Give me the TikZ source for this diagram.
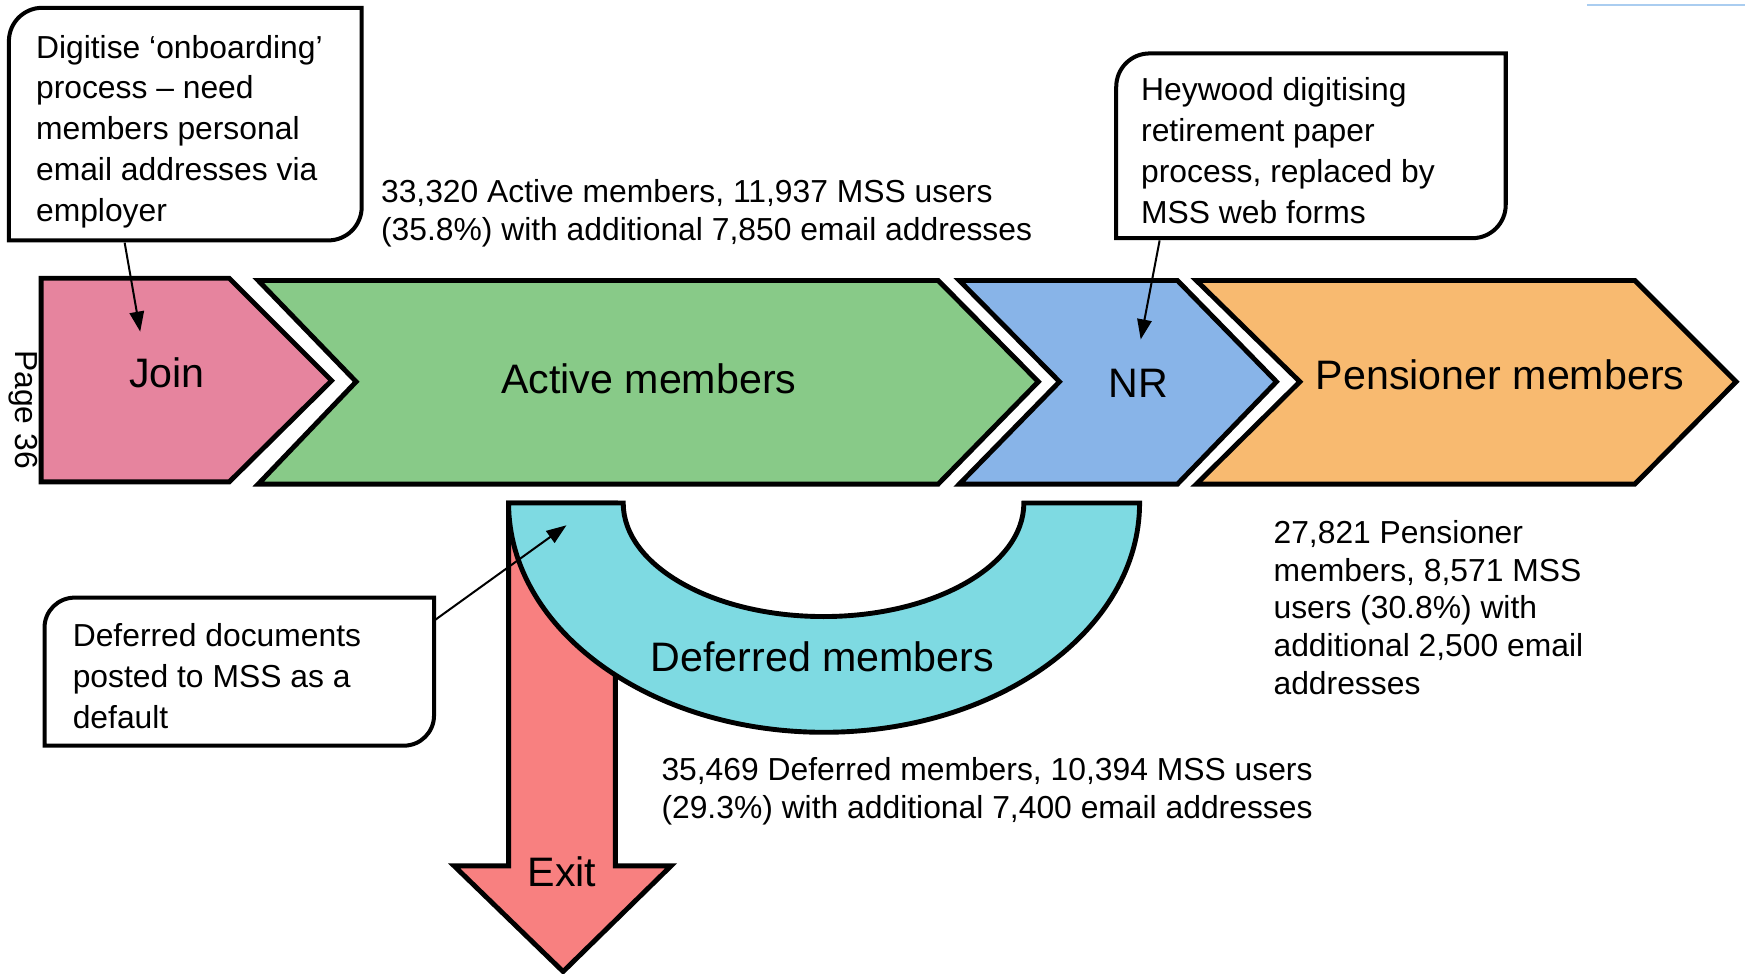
\documentclass[tikz,border=0pt]{standalone}
\usepackage{fontspec}
\setmainfont{Liberation Sans}
\usetikzlibrary{arrows.meta}
\definecolor{joinc}{RGB}{230,132,158}
\definecolor{activec}{RGB}{136,202,136}
\definecolor{nrc}{RGB}{136,180,232}
\definecolor{pensc}{RGB}{248,186,112}
\definecolor{defc}{RGB}{126,218,226}
\definecolor{exitc}{RGB}{248,128,128}
\definecolor{faintblue}{RGB}{170,205,240}
\begin{document}
\begin{tikzpicture}[x=0.5pt,y=-0.5pt,
  chev/.style={draw=black, line width=2.2pt, line join=miter},
  callout/.style={draw=black, line width=1.8pt, fill=white},
  pointer/.style={draw=black, line width=0.9pt, -{Triangle[length=9pt,width=6.5pt]}},
  small/.style={font=\fontsize{14.3}{17}\selectfont, align=left, inner sep=0pt, anchor=north west},
  boxtext/.style={font=\fontsize{14.3}{18.4}\selectfont, align=left, inner sep=0pt, anchor=north west},
  big/.style={font=\fontsize{18.5}{22}\selectfont, inner sep=0pt}]
\useasboundingbox (0,0) rectangle (1568,875);

% faint line top right
\draw[faintblue, line width=0.8pt] (1426,4.5) -- (1568,4.5);

% chevrons
\draw[chev, fill=joinc] (37,250) -- (206,250) -- (298,342) -- (206,433) -- (37,433) -- cycle;
\draw[chev, fill=activec] (232,252) -- (843,252) -- (933,343) -- (843,435) -- (232,435) -- (320,343) -- cycle;
\draw[chev, fill=nrc] (862,252) -- (1058,252) -- (1147,343) -- (1058,435) -- (862,435) -- (952,343) -- cycle;
\draw[chev, fill=pensc] (1075,252) -- (1469,252) -- (1560,343) -- (1469,435) -- (1075,435) -- (1168,343) -- cycle;

\node[big] (join) at (150,335) {Join};
\node[big] (active) at (583,340) {Active members};
\node[big] (nr) at (1023,344) {NR};
\node[big] (pens) at (1348,337) {Pensioner members};

% exit arrow
\draw[chev, fill=exitc] (457,452) -- (457,778) -- (408,778) -- (506,873) -- (603,778) -- (553,778) -- (553,452) -- cycle;
\node[big] (exit) at (505,783) {Exit};

% deferred U
\draw[chev, fill=defc] (457,452) .. controls (457,565.8) and (583.9,658) .. (740.5,658)
  .. controls (897.1,658) and (1024,565.8) .. (1024,452) -- (920,452)
  .. controls (920,508.3) and (839.4,554) .. (740,554)
  .. controls (640.6,554) and (560,508.3) .. (560,452) -- cycle;
\node[big] (deferred) at (739,590) {Deferred members};

% page number
\node[font=\fontsize{14.3}{17}\selectfont, rotate=-90, inner sep=0pt] (page) at (21,368) {Page 36};

% callout 1
\draw[callout] (8,216) -- (8,37) .. controls (8,20.4) and (21.4,7) .. (38,7) -- (325,7) -- (325,186)
  .. controls (325,202.6) and (311.6,216) .. (295,216) -- cycle;
\node[boxtext] (t1) at (32,31) {Digitise ‘onboarding’\\process – need\\members personal\\email addresses via\\employer};
\coordinate (p1s) at (112,218);
\coordinate (p1e) at (126,298);
\draw[pointer] (p1s) -- (p1e);

% callout 2
\draw[callout] (1003,214) -- (1003,78) .. controls (1003,61.4) and (1016.4,48) .. (1033,48) -- (1353,48) -- (1353,184)
  .. controls (1353,200.6) and (1339.6,214) .. (1323,214) -- cycle;
\node[boxtext] (t2) at (1025,69) {Heywood digitising\\retirement paper\\process, replaced by\\MSS web forms};
\coordinate (p2s) at (1042,216);
\coordinate (p2e) at (1025,305);
\draw[pointer] (p2s) -- (p2e);

% callout 3
\draw[callout] (40,670) -- (40,564) .. controls (40,549.1) and (52.1,537) .. (67,537) -- (390,537) -- (390,643)
  .. controls (390,657.9) and (377.9,670) .. (363,670) -- cycle;
\node[boxtext] (t3) at (65,560) {Deferred documents\\posted to MSS as a\\default};
\coordinate (p3s) at (391,557);
\coordinate (p3e) at (509,472);
\draw[pointer] (p3s) -- (p3e);

% stats
\node[small] (sa) at (342,161) {33,320 Active members, 11,937 MSS users\\(35.8\%) with additional 7,850 email addresses};
\node[small] (sp) at (1144,467) {27,821 Pensioner\\members, 8,571 MSS\\users (30.8\%) with\\additional 2,500 email\\addresses};
\node[small] (sd) at (594,680) {35,469 Deferred members, 10,394 MSS users\\(29.3\%) with additional 7,400 email addresses};
\end{tikzpicture}
\end{document}
